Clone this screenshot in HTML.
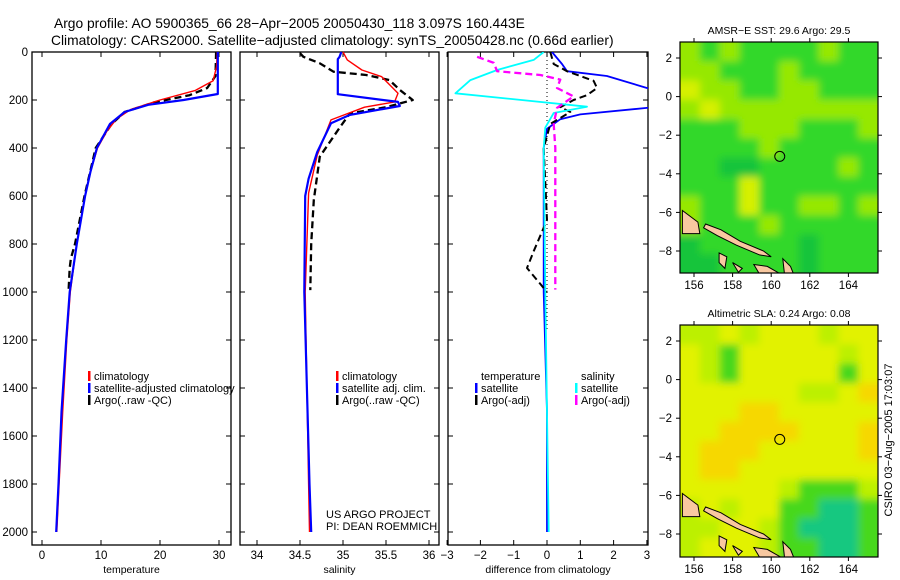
<!DOCTYPE html>
<html><head><meta charset="utf-8">
<style>
body{margin:0;background:#fff;}
svg{display:block;font-family:"Liberation Sans",sans-serif;}
</style></head>
<body>
<svg id="c" width="900" height="580" viewBox="0 0 900 580" xmlns="http://www.w3.org/2000/svg">
<text x="54" y="28" font-size="13.8">Argo profile: AO 5900365_66 28−Apr−2005 20050430_118 3.097S 160.443E</text>
<text x="51" y="45" font-size="13.8">Climatology: CARS2000. Satellite−adjusted climatology: synTS_20050428.nc (0.66d earlier)</text>
<g id="g"></g>
<text transform="translate(892,440) rotate(-90)" text-anchor="middle" font-size="11">CSIRO 03−Aug−2005 17:03:07</text>
</svg>
<script>
// ---- data ----
const depthTicks=[0,200,400,600,800,1000,1200,1400,1600,1800,2000];
const tempTicks=[0,10,20,30];
const salTicks=[34,34.5,35,35.5,36];
const salTickLabels=["34","34.5","35","35.5","36"];
const diffTicks=[-3,-2,-1,0,1,2,3];
// temperature profiles [depth,value]
const tClimD=[0,60,120,160,200,240,280,330,400,500,600,800,1000,1200,1500,1800,2000];
const tClimV=[29.7,29.6,29.0,26,20,15,12.6,11,9.4,8.2,7.3,5.9,4.8,4.2,3.5,2.9,2.5];
const tSatD=[0,175,200,220,250,300,400,500,600,800,1000,1200,1500,1800,2000];
const tSatV=[29.8,29.8,24,18,14,11.5,9.3,8.2,7.3,5.9,4.7,4.1,3.3,2.8,2.4];
const tArgoD=[0,100,150,180,210,250,300,400,600,800,860,900,1000];
const tArgoV=[29.5,29.4,28,25,19,14,11.8,9.1,7.2,5.6,4.9,4.7,4.5];
// salinity
const sClimD=[0,33,75,103,172,208,230,283,430,588,1000,1400,1800,2000];
const sClimV=[35.0,35.05,35.22,35.45,35.64,35.6,35.25,34.86,34.7,34.6,34.56,34.58,34.6,34.61];
const sSatD=[0,20,30,176,208,225,262,297,417,528,600,1000,1400,1800,2000];
const sSatV=[34.98,34.96,34.94,34.94,35.64,35.66,35.08,34.86,34.7,34.6,34.56,34.55,34.58,34.61,34.63];
const sArgoD=[5,20,47,82,96,117,158,200,230,256,311,436,617,800,992];
const sArgoV=[34.5,34.54,34.73,34.89,35.27,35.54,35.66,35.81,35.5,35.08,34.97,34.73,34.66,34.63,34.62];
// differences
const dTSatD=[0,50,80,100,150,170,210,233,260,280,320,400,600,1000,1500,2000];
const dTSatV=[0.15,0.45,0.6,1.8,3,5,5,3,1.0,0.4,0,-0.1,-0.1,-0.1,0,0];
const dTArgoD=[0,50,80,120,150,180,200,230,250,300,400,700,830,900,950,1000];
const dTArgoV=[0.1,0.2,0.6,1.4,1.5,1.2,0.8,0.4,0.7,0.1,-0.1,0,-0.4,-0.6,-0.3,0];
const dSSatD=[0,33,75,117,172,228,254,315,400,1000,2000];
const dSSatV=[-0.1,-0.4,-1.5,-2.3,-2.75,1.2,0.2,-0.05,-0.1,-0.05,0.05];
const dSArgoD=[20,45,80,96,115,150,185,233,300,400,990];
const dSArgoV=[-2.1,-1.6,-1.5,-0.2,0.4,0.3,0.8,0.3,0.2,0.25,0.25];
// map grids (palette indices, rows north->south)
const sstGrid=[
[2,1,2,1,1,1,1,2,1,1],[2,2,1,1,1,2,1,1,1,1],[3,2,2,1,1,2,2,1,1,1],[2,3,2,2,2,2,2,2,2,2],
[1,1,1,2,2,2,1,1,1,2],[1,1,1,1,2,1,1,1,1,1],[1,1,0,0,1,1,1,1,2,1],[1,1,1,3,1,1,1,1,1,1],
[2,1,1,3,1,1,2,2,1,2],[2,1,1,1,2,1,1,1,1,1],[0,1,1,1,1,1,0,1,1,1],[0,0,1,1,1,1,0,1,1,1]];
const slaGrid=[
[2,2,3,2,3,3,3,2,3,3],[3,2,1,3,3,3,3,3,2,3],[3,2,1,3,3,3,3,3,1,3],[3,3,3,3,3,3,2,2,3,4],
[3,3,3,4,4,3,3,3,3,3],[3,3,4,4,4,4,3,3,3,4],[3,4,4,4,3,3,3,3,3,4],[3,4,4,3,3,3,3,3,3,3],
[3,3,3,3,3,2,1,1,1,2],[2,3,2,3,3,1,1,0,0,1],[2,2,3,3,2,1,0,0,0,1],[2,3,3,3,2,1,1,0,0,1]];
const lonTicks=[156,158,160,162,164];
const latTicks=[2,0,-2,-4,-6,-8];
const argoLon=160.443, argoLat=-3.097;

// ---- drawing ----
const NS="http://www.w3.org/2000/svg";
const G=document.getElementById('g');
function mk(tag,at,parent){const e=document.createElementNS(NS,tag);for(const k in at)e.setAttribute(k,at[k]);(parent||G).appendChild(e);return e;}
const Y=d=>52+d*0.24;
const defs=mk('defs',{});
const flt=mk('filter',{id:'soft',x:'-5%',y:'-5%',width:'110%',height:'110%'},defs);
mk('feGaussianBlur',{stdDeviation:4},flt);

function axesBox(x0,x1,name){
  const r=mk('rect',{x:x0,y:52,width:x1-x0,height:493,fill:'none',stroke:'#000','stroke-width':1.3});
  
  
}
function panel(x0,x1,X,xt,xl,title,name,ylabels){
  axesBox(x0,x1,name+'-frame');
  depthTicks.forEach(d=>{
    mk('line',{x1:x0,x2:x0+5,y1:Y(d),y2:Y(d),stroke:'#000'});
    mk('line',{x1:x1-5,x2:x1,y1:Y(d),y2:Y(d),stroke:'#000'});
    if(ylabels){const t=mk('text',{x:28,y:Y(d)+4,'text-anchor':'end','font-size':11.5});t.textContent=d;
      
      }
  });
  xt.forEach((v,i)=>{
    const x=X(v);
    mk('line',{x1:x,x2:x,y1:52,y2:57,stroke:'#000'});
    mk('line',{x1:x,x2:x,y1:540,y2:545,stroke:'#000'});
    const t=mk('text',{x:x,y:559,'text-anchor':'middle','font-size':11.5});t.textContent=xl[i];
    
    
  });
  const tt=mk('text',{x:(x0+x1)/2,y:573,'text-anchor':'middle','font-size':10.5});tt.textContent=title;
  
  
}
function line(D,V,X,col,w,dash,name,clip){
  const p=D.map((d,i)=>X(V[i]).toFixed(1)+','+Y(d).toFixed(1)).join(' ');
  const at={points:p,fill:'none',stroke:col,'stroke-width':w,'stroke-linejoin':'round'};
  if(dash)at['stroke-dasharray']=dash;
  if(clip)at['clip-path']='url(#'+clip+')';
  const e=mk('polyline',at);
  
  
}
function legend(x,y,items,name){
  items.forEach((it,i)=>{
    if(it[1])mk('rect',{x:x,y:y+i*12-9,width:2.5,height:10,fill:it[1]});
    const t=mk('text',{x:x+6,y:y+i*12,'font-size':11});t.textContent=it[0];
    
    
  });
}

// panel 1: temperature
const XT=v=>42+v*5.9;
panel(32,231,XT,tempTicks,tempTicks.map(String),'temperature','temperature-panel',true);
line(tArgoD,tArgoV,XT,'#000',2.3,'7,4','temp-argo-line');
line(tClimD,tClimV,XT,'#f00',1.4,null,'temp-climatology-line');
line(tSatD,tSatV,XT,'#00f',2.2,null,'temp-satellite-line');
legend(88,380,[['climatology','#f00'],['satellite-adjusted climatology','#00f'],['Argo(..raw -QC)','#000']],'temp-legend');

// panel 2: salinity
const XS=v=>300+(v-34.5)*86;
panel(240,439,XS,salTicks,salTickLabels,'salinity','salinity-panel',false);
line(sArgoD,sArgoV,XS,'#000',2.3,'7,4','sal-argo-line');
line(sClimD,sClimV,XS,'#f00',1.4,null,'sal-climatology-line');
line(sSatD,sSatV,XS,'#00f',2.2,null,'sal-satellite-line');
legend(336,380,[['climatology','#f00'],['satellite adj. clim.','#00f'],['Argo(..raw -QC)','#000']],'sal-legend');
[['US ARGO PROJECT',518],['PI: DEAN ROEMMICH',530]].forEach(a=>{const t=mk('text',{x:326,y:a[1],'font-size':11});t.textContent=a[0];
  
  });

// panel 3: difference
const XD=v=>547+v*33.3;
const cp=mk('clipPath',{id:'p3'});mk('rect',{x:448,y:52,width:200,height:493},cp);
panel(448,648,XD,diffTicks,diffTicks.map(v=>v<0?'−'+(-v):String(v)),'difference from climatology','difference-panel',false);
mk('line',{x1:XD(0),x2:XD(0),y1:52,y2:330,stroke:'#000','stroke-dasharray':'1,3'});
line(dTSatD,dTSatV,XD,'#00f',1.8,null,'diff-temp-satellite-line','p3');
line(dTArgoD,dTArgoV,XD,'#000',2,'7,4','diff-temp-argo-line','p3');
line(dSSatD,dSSatV,XD,'#0ff',1.8,null,'diff-sal-satellite-line','p3');
line(dSArgoD,dSArgoV,XD,'#f0f',2.3,'7,4','diff-sal-argo-line','p3');
legend(475,380,[['temperature',null],['satellite','#00f'],['Argo(-adj)','#000']],'diff-temp-legend');
legend(575,380,[['salinity',null],['satellite','#0ff'],['Argo(-adj)','#f0f']],'diff-sal-legend');

// maps
const pal1=['#16c43a','#30d82a','#96e800','#d6f000'];
const pal2=['#12c880','#46d81c','#bcf000','#e2f200','#f6d800'];
function map(top,bot,grid,pal,title,name,latY0){
  const x0=680,x1=878,w=(x1-x0)/10,h=(bot-top)/12;
  const LX=l=>694+(l-156)*19.3, LY=a=>latY0+(2-a)*19.3;
  const g=mk('g',{});
  
  
  const cpId=name+'-clip';
  const c=mk('clipPath',{id:cpId});mk('rect',{x:x0,y:top,width:x1-x0,height:bot-top},c);
  const cg=mk('g',{'clip-path':'url(#'+cpId+')'},g);
  const bg=mk('g',{filter:'url(#soft)'},cg);
  grid.forEach((row,r)=>row.forEach((v,c)=>{
    mk('rect',{x:x0+c*w-(c==0?10:0),y:top+r*h-(r==0?10:0),width:w+0.5+(c==0||c==9?10:0),height:h+0.5+(r==0||r==11?10:0),fill:pal[v]},bg);
  }));
  // land
  const land=[[[155.4,-5.9],[156.2,-6.5],[156.3,-7.1],[155.4,-7.1]],
    [[156.6,-6.6],[157.4,-6.9],[158.4,-7.5],[159.6,-8.0],[160.0,-8.3],[159.4,-8.2],[158.2,-7.7],[157.2,-7.2],[156.5,-6.8]],
    [[157.3,-8.1],[157.7,-8.3],[157.6,-8.9],[157.3,-8.6]],[[158.0,-8.6],[158.5,-8.9],[158.3,-9.1]],
    [[159.1,-8.7],[159.8,-8.8],[160.5,-9.2],[159.4,-9.2]],[[160.6,-8.4],[161.0,-8.8],[161.2,-9.3],[160.7,-9.3]]];
  land.forEach(poly=>mk('polygon',{points:poly.map(p=>LX(p[0]).toFixed(1)+','+LY(p[1]).toFixed(1)).join(' '),fill:'#f8c8a0',stroke:'#000','stroke-width':1},cg));
  mk('circle',{cx:LX(argoLon),cy:LY(argoLat),r:5,fill:'none',stroke:'#000','stroke-width':1},g);
  mk('rect',{x:x0,y:top,width:x1-x0,height:bot-top,fill:'none',stroke:'#000','stroke-width':1.2},g);
  lonTicks.forEach(l=>{
    mk('line',{x1:LX(l),x2:LX(l),y1:bot,y2:bot+4,stroke:'#000'},g);
    mk('line',{x1:LX(l),x2:LX(l),y1:top-4,y2:top,stroke:'#000'},g);
    const t=mk('text',{x:LX(l),y:bot+16,'text-anchor':'middle','font-size':11.5},g);t.textContent=l;
    
    
  });
  latTicks.forEach(a=>{
    mk('line',{x1:x0-4,x2:x0,y1:LY(a),y2:LY(a),stroke:'#000'},g);
    mk('line',{x1:x1,x2:x1+4,y1:LY(a),y2:LY(a),stroke:'#000'},g);
    const t=mk('text',{x:x0-8,y:LY(a)+4,'text-anchor':'end','font-size':11.5},g);t.textContent=a<0?'−'+(-a):a;
    
    
  });
  const t=mk('text',{x:(x0+x1)/2,y:top-8,'text-anchor':'middle','font-size':10.5},g);t.textContent=title;
  
  
}
map(42,273,sstGrid,pal1,'AMSR−E SST: 29.6 Argo: 29.5','sst-map',58);
map(325,557,slaGrid,pal2,'Altimetric SLA: 0.24 Argo: 0.08','sla-map',341);
</script>
</body></html>
